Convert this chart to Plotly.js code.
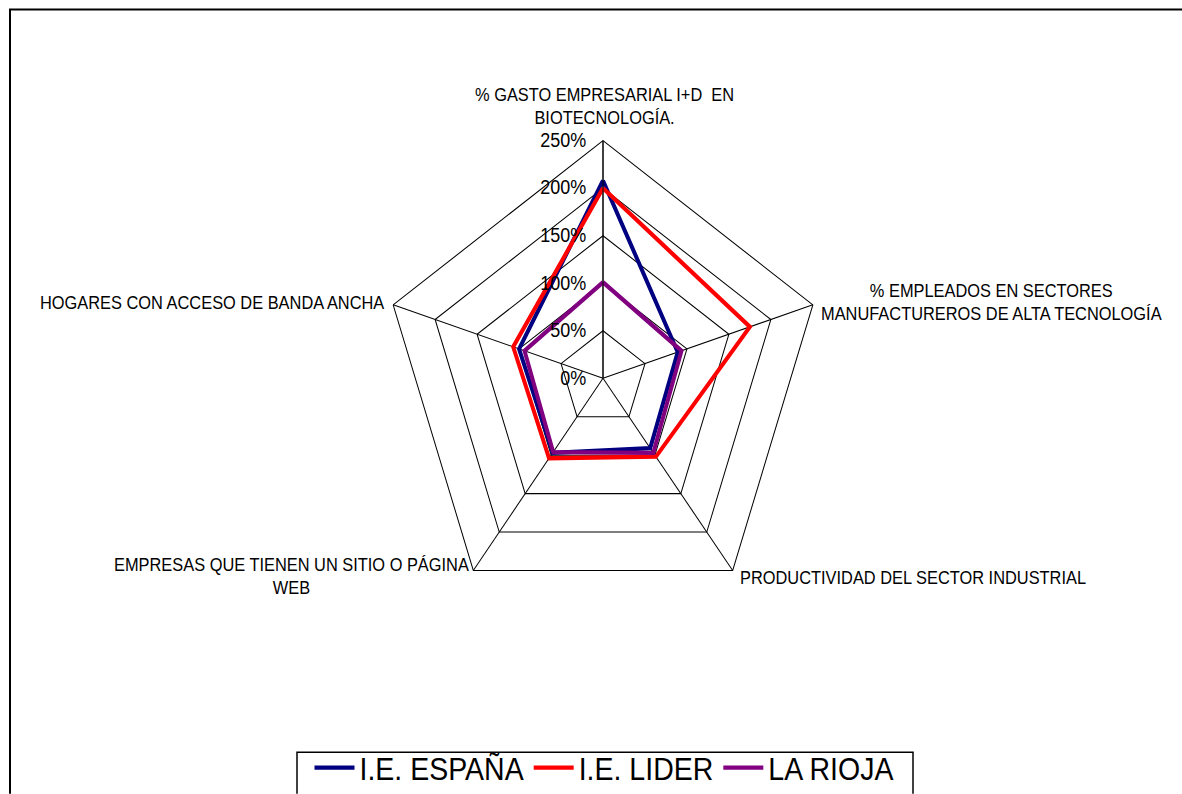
<!DOCTYPE html>
<html>
<head>
<meta charset="utf-8">
<script src="https://cdn.plot.ly/plotly-3.0.1.min.js"></script>
<style>
html,body{margin:0;padding:0;background:#fff;overflow:hidden;}
#wrap{width:1182px;height:794px;overflow:hidden;position:relative;}
#chart{width:1182px;transform-origin:0 0;}
</style>
</head>
<body>
<div id="wrap"><div id="chart"></div></div>
<script>
// Axis categories (clockwise from top)
const categories = [
  "% GASTO EMPRESARIAL I+D  EN BIOTECNOLOGÍA.",
  "% EMPLEADOS EN SECTORES MANUFACTUREROS DE ALTA TECNOLOGÍA",
  "PRODUCTIVIDAD DEL SECTOR INDUSTRIAL",
  "EMPRESAS QUE TIENEN UN SITIO O PÁGINA WEB",
  "HOGARES CON ACCESO DE BANDA ANCHA"
];
const axisLabels = [
  "% GASTO EMPRESARIAL I+D  EN<br>BIOTECNOLOGÍA.",
  "% EMPLEADOS EN SECTORES<br>MANUFACTUREROS DE ALTA TECNOLOGÍA",
  "PRODUCTIVIDAD DEL SECTOR INDUSTRIAL",
  "EMPRESAS QUE TIENEN UN SITIO O PÁGINA<br>WEB",
  "HOGARES CON ACCESO DE BANDA ANCHA"
];
const seriesNames = ["I.E. ESPAÑA", "I.E. LIDER", "LA RIOJA"];
const espana = [208, 89, 91, 97, 100];
const lider  = [200, 175, 102, 104, 107];
const rioja  = [101, 93.5, 97, 96, 93.5];
const radialTicks = [0, 50, 100, 150, 200, 250];

const colors = ["#000080", "#FF0000", "#800080"];
const allValues = [espana, lider, rioja];

const close = a => a.concat([a[0]]);
const traces = allValues.map((vals, i) => ({
  type: "scatterpolar",
  mode: "lines",
  name: seriesNames[i],
  r: close(vals),
  theta: close(categories),
  line: {color: colors[i], width: 4},
  hoverinfo: "skip"
}));

// Final picture size and the reference's vertical stretch of the whole chart
const W = 1182, H = 794;
const S = 1.077;
const H0 = H / S;
const chartDiv = document.getElementById("chart");
chartDiv.style.height = H0 + "px";
chartDiv.style.transform = "scaleY(" + S + ")";

const cx = 603, cy = 378.4, Rx = 220.7, Ry = 237.7;
const px = x => x / W, py = y => 1 - y / H;

// label placements (pixel anchors, final picture)
const labelPos = [
  {x: 604, y: 106, xa: "center", ya: "middle"},
  {x: 991, y: 302.5, xa: "center", ya: "middle"},
  {x: 738, y: 577, xa: "left", ya: "middle"},
  {x: 291, y: 576, xa: "center", ya: "middle"},
  {x: 386, y: 303, xa: "right", ya: "middle"}
];
const FONT = "Liberation Sans, Arial, sans-serif";
const annotations = axisLabels.map((t, i) => ({
  text: t, xref: "paper", yref: "paper",
  x: px(labelPos[i].x), y: py(labelPos[i].y),
  xanchor: labelPos[i].xa, yanchor: labelPos[i].ya,
  align: "center", showarrow: false,
  font: {family: FONT, size: 16.4, color: "#000"}
}));

const layout = {
  width: W, height: H0,
  margin: {l: 0, r: 0, t: 0, b: 0, autoexpand: false},
  paper_bgcolor: "#fff",
  font: {family: FONT, color: "#000"},
  showlegend: true,
  legend: {
    orientation: "h",
    x: px(604), xanchor: "center",
    y: py(741), yanchor: "top",
    bgcolor: "rgba(0,0,0,0)",
    borderwidth: 0,
    font: {size: 28.5, family: FONT},
    itemwidth: 40, tracegroupgap: 0
  },
  polar: {
    domain: {x: [px(cx - Rx), px(cx + Rx)], y: [py(cy + Ry), py(cy - Ry)]},
    bgcolor: "#fff",
    gridshape: "linear",
    radialaxis: {
      range: [0, 250],
      tickvals: radialTicks,
      ticktext: radialTicks.map(v => v + "%\u00A0\u00A0"),
      angle: 90,
      side: "counterclockwise",
      tickangle: 90,
      showline: true, linecolor: "#000", linewidth: 1,
      gridcolor: "#000", gridwidth: 1,
      ticks: "",
      tickfont: {size: 18, color: "#000", family: FONT}
    },
    angularaxis: {
      rotation: 90,
      direction: "clockwise",
      showline: true, linecolor: "#000", linewidth: 1,
      gridcolor: "#000", gridwidth: 1,
      showticklabels: false,
      ticks: ""
    }
  },
  shapes: [
    { // chart frame
      type: "rect", xref: "paper", yref: "paper",
      x0: px(10), x1: px(1195), y0: py(820), y1: py(9.5),
      line: {color: "#000", width: 2}, fillcolor: "rgba(0,0,0,0)"
    },
    { // legend frame
      type: "rect", xref: "paper", yref: "paper",
      x0: px(297), x1: px(913), y0: py(815), y1: py(752.5),
      line: {color: "#000", width: 1.5}, fillcolor: "rgba(0,0,0,0)"
    }
  ],
  annotations: annotations
};

Plotly.newPlot(chartDiv, traces, layout, {displayModeBar: false, staticPlot: true});
</script>
</body>
</html>
